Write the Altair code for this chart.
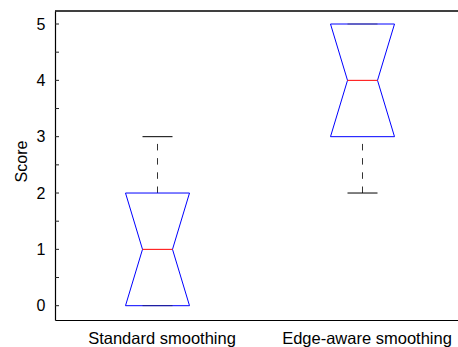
import altair as alt
import pandas as pd

# ---- data ----
categories = ["Standard smoothing", "Edge-aware smoothing"]
positions = [1, 2]
mins = [0, 2]
q1s = [0, 3]
medians = [1, 4]
q3s = [2, 5]
maxs = [3, 5]
minor_ticks = [0, 0.5, 1, 1.5, 2, 2.5, 3, 3.5, 4, 4.5, 5]
major_ticks = [0, 1, 2, 3, 4, 5]

# ---- style constants ----
W, H = 403, 309
PX_PER_UNIT = 205.0
BOX_HALF = 32 / PX_PER_UNIT
NOTCH_HALF = 15 / PX_PER_UNIT
FONT = "Liberation Sans"
XDOM = [0.5, 0.5 + W / PX_PER_UNIT]
YDOM = [-0.254, 5.231]

# ---- tables built from the arrays ----
outline_rows = []
for cat, p, a, m, b in zip(categories, positions, q1s, medians, q3s):
    pts = [
        (p - BOX_HALF, a), (p + BOX_HALF, a), (p + NOTCH_HALF, m),
        (p + BOX_HALF, b), (p - BOX_HALF, b), (p - NOTCH_HALF, m),
        (p - BOX_HALF, a),
    ]
    for k, (x, y) in enumerate(pts):
        outline_rows.append({"cat": cat, "x": x, "y": y, "k": k})
outline = pd.DataFrame(outline_rows)

stats = pd.DataFrame({
    "cat": categories, "pos": positions, "min": mins, "q1": q1s,
    "med": medians, "q3": q3s, "max": maxs,
})
stats["nl"] = stats["pos"] - NOTCH_HALF
stats["nr"] = stats["pos"] + NOTCH_HALF

whisk_rows = []
cap_rows = []
for cat, p, lo, a, b, hi in zip(categories, positions, mins, q1s, q3s, maxs):
    if a > lo:
        whisk_rows.append({"cat": cat, "pos": p, "y1": lo, "y2": a})
    if hi > b:
        whisk_rows.append({"cat": cat, "pos": p, "y1": b, "y2": hi})
    cap_rows.append({"cat": cat, "nl": p - NOTCH_HALF, "nr": p + NOTCH_HALF, "v": lo, "edge": a})
    cap_rows.append({"cat": cat, "nl": p - NOTCH_HALF, "nr": p + NOTCH_HALF, "v": hi, "edge": b})
whiskers = pd.DataFrame(whisk_rows)
caps = pd.DataFrame(cap_rows)
ticks = pd.DataFrame({"t": minor_ticks})

label_expr = " : ".join(
    [f"datum.value == {p} ? '{c}'" for p, c in zip(positions, categories)] + ["''"]
)

xscale = alt.Scale(domain=XDOM, nice=False, zero=False)
yscale = alt.Scale(domain=YDOM, nice=False, zero=False)

x_axis = alt.Axis(
    values=positions, labelExpr=label_expr, title=None, ticks=False, tickSize=0,
    grid=False, domainColor="black", domainWidth=1.2, labelFont=FONT,
    labelFontSize=16.5, labelColor="black", labelPadding=10, labelOffset=4,
)
y_axis = alt.Axis(
    values=major_ticks, format="d", title="Score", ticks=False, tickSize=0,
    grid=False, domainColor="black", domainWidth=1.2, labelFont=FONT,
    labelFontSize=16, labelColor="black", labelPadding=10,
    titleFont=FONT, titleFontSize=16, titleFontWeight="normal", titleColor="black",
    titleX=-29, titleY=150, titleAngle=270, titleAlign="center",
    titleBaseline="alphabetic",
)

base_axes = alt.Chart(stats).mark_point(opacity=0).encode(
    x=alt.X("pos:Q", scale=xscale, axis=x_axis),
    y=alt.Y("med:Q", scale=yscale, axis=y_axis),
)

tick_layer = alt.Chart(ticks).mark_rule(color="#222", strokeWidth=1).encode(
    x=alt.value(0), x2=alt.value(4), y=alt.Y("t:Q", scale=yscale)
)

top_border = alt.Chart(stats).mark_rule(color="black", strokeWidth=1).encode(
    x=alt.value(0), x2=alt.value(W), y=alt.value(0)
)

whisk_layer = alt.Chart(whiskers).mark_rule(
    color="#333", strokeWidth=1, strokeDash=[6.5, 7.7]
).encode(
    x=alt.X("pos:Q", scale=xscale),
    y=alt.Y("y1:Q", scale=yscale),
    y2="y2:Q",
)

box_layer = alt.Chart(outline).mark_line(color="#0000ff", strokeWidth=1).encode(
    x=alt.X("x:Q", scale=xscale),
    y=alt.Y("y:Q", scale=yscale),
    order="k:Q",
    detail="cat:N",
)

cap_layer = alt.Chart(caps).mark_rule(color="black", strokeWidth=1).encode(
    x=alt.X("nl:Q", scale=xscale),
    x2="nr:Q",
    y=alt.Y("v:Q", scale=yscale),
    opacity=alt.condition("datum.v == datum.edge", alt.value(0.45), alt.value(1)),
)

median_layer = alt.Chart(stats).mark_rule(color="#ff0000", strokeWidth=1).encode(
    x=alt.X("nl:Q", scale=xscale),
    x2="nr:Q",
    y=alt.Y("med:Q", scale=yscale),
)

chart = alt.layer(
    base_axes, tick_layer, top_border, whisk_layer, box_layer, cap_layer, median_layer
).properties(
    width=W, height=H,
    autosize=alt.AutoSizeParams(type="none"),
    padding={"left": 55, "top": 11, "right": 0, "bottom": 27},
    background="white",
).configure_view(stroke=None)

chart.save("out.html", embed_options={"renderer": "svg", "actions": False})
